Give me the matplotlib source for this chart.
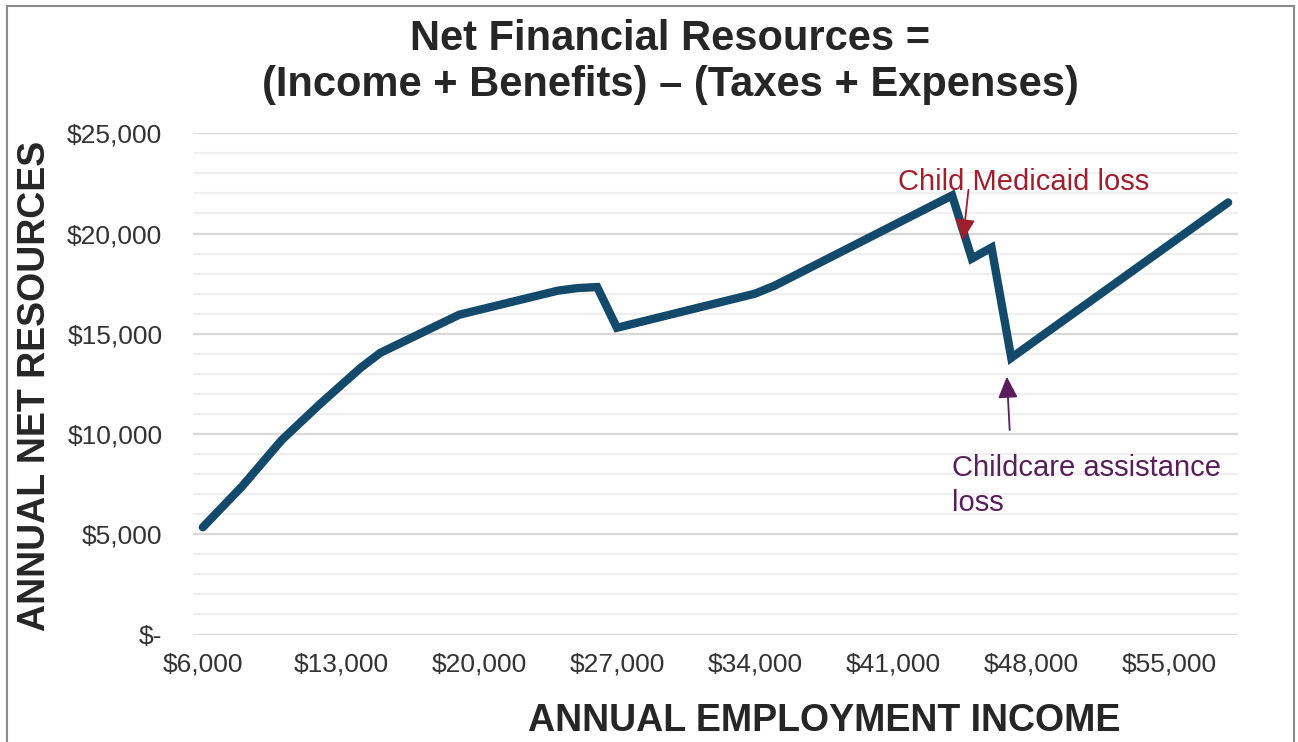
import matplotlib
matplotlib.use("Agg")
import matplotlib.pyplot as plt
from matplotlib.ticker import FuncFormatter, MultipleLocator
from matplotlib.patches import Rectangle

plt.rcParams['font.family'] = ['Liberation Sans', 'DejaVu Sans']

# Data (vertices of the line)
income = [6000, 8000, 10000, 12000, 14000, 15000, 19000, 24000, 25000, 26000,
          27000, 34000, 35000, 44000, 45000, 46000, 47000, 58000]
net_resources = [5350, 7400, 9700, 11550, 13300, 14050, 15950, 17150, 17280, 17330,
                 15300, 17000, 17400, 21900, 18750, 19300, 13800, 21550]

x_ticks = [6000, 13000, 20000, 27000, 34000, 41000, 48000, 55000]
y_ticks = [0, 5000, 10000, 15000, 20000, 25000]

title_text = "Net Financial Resources =\n(Income + Benefits) \u2013 (Taxes + Expenses)"
xlabel_text = "ANNUAL EMPLOYMENT INCOME"
ylabel_text = "ANNUAL NET RESOURCES"
medicaid_text = "Child Medicaid loss"
childcare_text = "Childcare assistance\nloss"

LINE_COLOR = "#134A6B"
MEDICAID_COLOR = "#A11E2D"
CHILDCARE_COLOR = "#5A1E5C"
TICK_COLOR = "#333333"
TITLE_COLOR = "#262626"

W, H = 1298, 742
fig = plt.figure(figsize=(W / 100, H / 100), dpi=100)
fig.patch.set_facecolor("white")

# outer border
fig.patches.append(Rectangle((7 / W, -0.05), (1294 - 7) / W, (742 - 6) / H + 0.05,
                             transform=fig.transFigure, fill=False,
                             edgecolor="#8C8C8C", linewidth=1.5))

ax = fig.add_axes([193 / W, 1 - 634.5 / H, (1238 - 193) / W, (634.5 - 133.3) / H])
ax.set_xlim(5500, 58500)
ax.set_ylim(0, 25000)

ax.yaxis.set_minor_locator(MultipleLocator(1000))
ax.set_yticks(y_ticks)
ax.grid(which="minor", axis="y", color="#F0F0F0", linewidth=1.6, zorder=0)
ax.grid(which="major", axis="y", color="#D9D9D9", linewidth=1.6, zorder=0)
ax.set_axisbelow(True)

ax.plot(income, net_resources, color=LINE_COLOR, linewidth=6.0,
        solid_joinstyle="miter", solid_capstyle="round", zorder=3)

ax.set_xticks(x_ticks)
ax.xaxis.set_major_formatter(FuncFormatter(lambda v, p: f"${v:,.0f}"))
ax.yaxis.set_major_formatter(FuncFormatter(lambda v, p: "$-" if v == 0 else f"${v:,.0f}"))
ax.tick_params(axis="both", which="both", length=0, colors=TICK_COLOR, labelsize=19)
ax.tick_params(axis="y", pad=22)
ax.tick_params(axis="x", pad=13)

for s in ax.spines.values():
    s.set_visible(False)

# Titles and axis labels
fig.text(670 / W, 1 - 62 / H, title_text, ha="center", va="center",
         fontsize=30, fontweight="bold", color=TITLE_COLOR, linespacing=1.2)
fig.text(824 / W, 1 - 721 / H, xlabel_text, ha="center", va="center",
         fontsize=27, fontweight="bold", color=TITLE_COLOR)
fig.text(35 / W, 1 - 386 / H, ylabel_text, ha="center", va="center", rotation=90,
         fontsize=27, fontweight="bold", color=TITLE_COLOR)

# Annotations
ax.text(41260, 22180, medicaid_text, color=MEDICAID_COLOR, fontsize=21,
        ha="left", va="baseline", zorder=5)
ax.annotate("", xy=(44544, 19650), xytext=(44830, 22180),
            arrowprops=dict(arrowstyle="-|>,head_length=1.3,head_width=0.6",
                            color=MEDICAID_COLOR, lw=1.3, shrinkA=0, shrinkB=0),
            zorder=6)

ax.text(43985, 7440, childcare_text, color=CHILDCARE_COLOR, fontsize=21,
        ha="left", va="center", linespacing=1.3, zorder=5)
ax.annotate("", xy=(46776, 12860), xytext=(46920, 10200),
            arrowprops=dict(arrowstyle="-|>,head_length=1.3,head_width=0.6",
                            color=CHILDCARE_COLOR, lw=1.3, shrinkA=0, shrinkB=0),
            zorder=6)

fig.savefig("out.png", dpi=100, facecolor="white")
